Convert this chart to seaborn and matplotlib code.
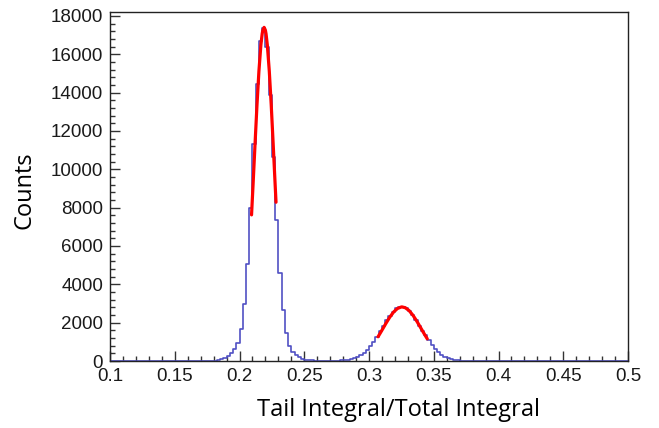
import numpy as np
import pandas as pd
import matplotlib
matplotlib.use("Agg")
import matplotlib.pyplot as plt
import seaborn as sns
from matplotlib.ticker import MultipleLocator

# ---------------- data ----------------
bin_start = 0.1
bin_width = 0.0025
counts = [
    0, 0, 0, 0, 0, 0, 0, 0, 0, 0,
    0, 0, 0, 0, 0, 0, 0, 0, 0, 0,
    0, 0, 0, 0, 0, 0, 0, 0, 0, 0,
    5, 10, 25, 50, 90, 150, 250, 400, 610, 960,
    1650, 2950, 5070, 7970, 11300, 14460, 16690, 17390, 16350, 13870,
    10620, 7340, 4570, 2650, 1450, 800, 480, 300, 190, 120,
    70, 45, 30, 20, 15, 12, 10, 10, 12, 15,
    20, 28, 40, 58, 92, 140, 209, 304, 427, 585,
    778, 1006, 1264, 1543, 1831, 2113, 2368, 2566, 2745, 2795,
    2830, 2740, 2590, 2375, 2130, 1850, 1570, 1330, 1080, 840,
    640, 460, 320, 215, 145, 95, 60, 38, 24, 14,
    8, 5, 3, 0, 0, 0, 0, 0, 0, 0,
    0, 0, 0, 0, 0, 0, 0, 0, 0, 0,
    0, 0, 0, 0, 0, 0, 0, 0, 0, 0,
    0, 0, 0, 0, 0, 0, 0, 0, 0, 0,
    0, 0, 0, 0, 0, 0, 0, 0, 0, 0,
]

fit1_x = [0.2093, 0.2105, 0.2120, 0.2135, 0.2150, 0.2165, 0.2175, 0.2180,
          0.2190, 0.2200, 0.2205, 0.2215, 0.2230, 0.2245, 0.2260, 0.2275, 0.2282]
fit1_y = [7620, 9230, 11320, 13350, 15120, 16470, 17060, 17250,
          17400, 17250, 17060, 16470, 15120, 13350, 11320, 9230, 8280]

fit2_x = [0.307, 0.310, 0.313, 0.316, 0.319, 0.322, 0.325, 0.3255,
          0.328, 0.331, 0.334, 0.337, 0.340, 0.343, 0.345]
fit2_y = [1264, 1605, 1955, 2282, 2554, 2740, 2818, 2820,
          2779, 2627, 2380, 2068, 1722, 1375, 1156]

x_ticks = [0.1, 0.15, 0.2, 0.25, 0.3, 0.35, 0.4, 0.45, 0.5]
x_tick_labels = ["0.1", "0.15", "0.2", "0.25", "0.3", "0.35", "0.4", "0.45", "0.5"]
y_ticks = [0, 2000, 4000, 6000, 8000, 10000, 12000, 14000, 16000, 18000]
x_label = "Tail Integral/Total Integral"
y_label = "Counts"

# ---------------- plotting ----------------
sns.set_style("white")
plt.rcParams["font.family"] = ["Liberation Sans", "DejaVu Sans"]

n_bins = len(counts)
edges = bin_start + bin_width * np.arange(n_bins + 1)
centers = (edges[:-1] + edges[1:]) / 2
df = pd.DataFrame({"x": centers, "w": counts})

fig = plt.figure(figsize=(6.59, 4.28), dpi=100)
ax = fig.add_axes([110 / 659, 1 - 361 / 428, 518 / 659, 349 / 428])

sns.histplot(data=df, x="x", weights="w", bins=[float(e) for e in edges],
             element="step", fill=False, color="#5050c4", linewidth=1.2, ax=ax)
sns.lineplot(x=fit1_x, y=fit1_y, color="#ff0000", linewidth=2.3,
             estimator=None, sort=True, ax=ax)
sns.lineplot(x=fit2_x, y=fit2_y, color="#ff0000", linewidth=2.3,
             estimator=None, sort=True, ax=ax)

ax.set_xlim(0.1, 0.5)
ax.set_ylim(0, 18200)
ax.set_xticks(x_ticks)
ax.set_xticklabels(x_tick_labels)
ax.set_yticks(y_ticks)
ax.set_yticklabels([str(v) for v in y_ticks])
ax.xaxis.set_minor_locator(MultipleLocator(0.01))
ax.yaxis.set_minor_locator(MultipleLocator(400))
ax.tick_params(axis="both", which="major", direction="in", length=7,
               width=1, color="#333333", labelsize=13.5, labelcolor="#1a1a1a",
               bottom=True, left=True, top=False, right=False, pad=5)
ax.tick_params(axis="both", which="minor", direction="in", length=3.5,
               width=1, color="#333333", bottom=True, left=True,
               top=False, right=False)
for s in ax.spines.values():
    s.set_color("#222222")
    s.set_linewidth(1.0)

ax.set_xlabel(x_label, fontsize=17, family=["Open Sans", "DejaVu Sans"], color="black")
ax.set_ylabel(y_label, fontsize=17, family=["Open Sans", "DejaVu Sans"], color="black")
ax.xaxis.label.set_va("center")
ax.yaxis.label.set_va("center")
ax.xaxis.set_label_coords(0.556, -0.14)
ax.yaxis.set_label_coords(-0.166, 0.49)

fig.savefig("out.png", dpi=100, facecolor="white")
